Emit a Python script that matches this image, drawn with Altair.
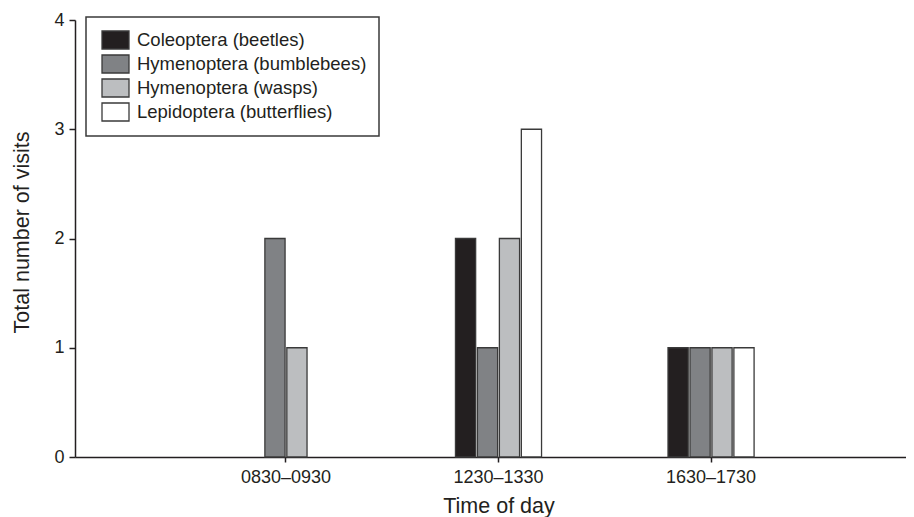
import altair as alt
import pandas as pd

times = ["0830–0930", "1230–1330", "1630–1730"]
groups = ["Coleoptera (beetles)", "Hymenoptera (bumblebees)",
          "Hymenoptera (wasps)", "Lepidoptera (butterflies)"]
beetles = [0, 2, 1]
bumblebees = [2, 1, 1]
wasps = [1, 2, 1]
butterflies = [0, 3, 1]
colors = ["#231f20", "#808285", "#bcbec0", "#ffffff"]

rows = []
for g, vals in zip(groups, [beetles, bumblebees, wasps, butterflies]):
    for t, v in zip(times, vals):
        rows.append({"time": t, "group": g, "visits": v})
df = pd.DataFrame(rows)

INK = "#231f20"
EDGE = "#3a3a3a"
FONT = "Liberation Sans"

chart = alt.Chart(df).transform_filter("datum.visits > 0").mark_bar(
    stroke=EDGE, strokeWidth=1.3
).encode(
    x=alt.X("time:N", sort=times,
            scale=alt.Scale(domain=times, range=[0, 847], paddingInner=0.595, paddingOuter=0.79),
            axis=alt.Axis(title="Time of day", labelAngle=0, tickSize=5,
                          labelPadding=6, titleY=55, titleBaseline="alphabetic")),
    xOffset=alt.XOffset("group:N", sort=groups,
                        scale=alt.Scale(domain=groups, paddingInner=0.08)),
    y=alt.Y("visits:Q", scale=alt.Scale(domain=[0, 4]),
            axis=alt.Axis(values=[0, 1, 2, 3, 4], title="Total number of visits",
                          grid=False, tickSize=6, labelPadding=5,
                          titleX=-47, titleY=212, titleBaseline="alphabetic")),
    fill=alt.Fill("group:N", sort=groups,
                  scale=alt.Scale(domain=groups, range=colors),
                  legend=alt.Legend(title=None, orient="none", legendX=11, legendY=-3,
                                    symbolType="M-0.7,-0.9H2V0.9H-0.7Z", symbolSize=400,
                                    symbolStrokeColor=EDGE, symbolStrokeWidth=1.3,
                                    labelFont=FONT, labelFontSize=18.5, labelColor=INK,
                                    labelLimit=400,
                                    labelOffset=17, padding=12, rowPadding=0,
                                    strokeColor=EDGE, fillColor="white")),
).properties(
    width=831, height=437,
    autosize=alt.AutoSizeParams(type="none"),
    padding={"left": 67, "top": 12, "right": 0, "bottom": 60},
).configure_view(stroke="transparent").configure_axis(
    domainColor=INK, domainWidth=1.5, tickColor=INK, tickWidth=1.5,
    labelFont=FONT, labelFontSize=18, labelColor=INK,
    titleFont=FONT, titleFontSize=21.5, titleFontWeight="normal", titleColor=INK,
).configure_legend(strokeWidth=1.5)

chart.save("out.html", embed_options={"renderer": "svg", "actions": False})
